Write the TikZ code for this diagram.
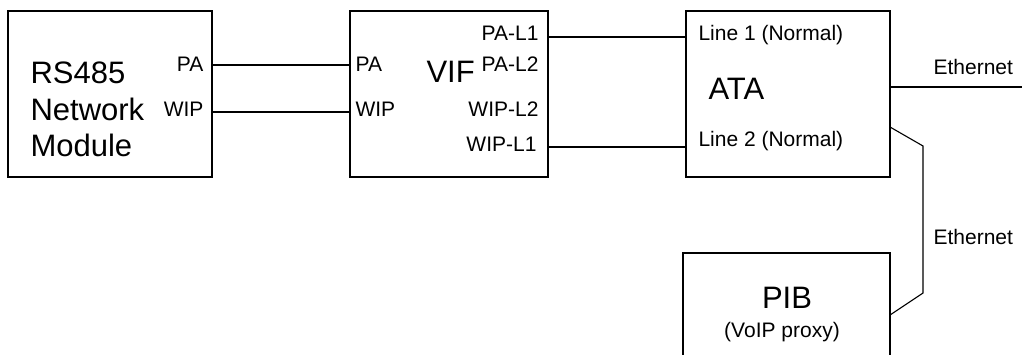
\documentclass[tikz,border=0pt]{standalone}
\usepackage{fontspec}
\setmainfont{Liberation Sans}
\newcommand{\bigtxt}{\fontsize{31}{36}\selectfont}
\newcommand{\smalltxt}{\fontsize{21}{25}\selectfont}

\begin{document}
\begin{tikzpicture}[x=1pt, y=-1pt, line width=1.1pt,
  unitbox/.style={draw, inner sep=0pt, outer sep=0pt},
  lbl/.style={inner sep=0pt, font=\smalltxt},
  title/.style={inner sep=0pt, font=\bigtxt}]

\clip (0,0) rectangle (1022,355);

% Boxes
\node[unitbox, minimum width=204pt, minimum height=166pt] (rs) at (110,94) {};
\node[unitbox, minimum width=198pt, minimum height=166pt] (vif) at (449,94) {};
\node[unitbox, minimum width=204pt, minimum height=166pt] (ata) at (788,94) {};
\node[unitbox, minimum width=207pt, minimum height=147pt] (pib) at (786.5,326.5) {};

% RS485 module text
\node[title, anchor=base west] (rsA) at (30,84) {RS485};
\node[title, anchor=base west] (rsB) at (30,121) {Network};
\node[title, anchor=base west] (rsC) at (30,157) {Module};
\node[lbl, anchor=base east] (rsPA) at (204,72) {PA};
\node[lbl, anchor=base east] (rsWIP) at (204,117) {WIP};

% VIF text
\node[title, anchor=base west] (vifT) at (426,83) {VIF};
\node[lbl, anchor=base west] (vifPA) at (355,72) {PA};
\node[lbl, anchor=base west] (vifWIP) at (355,117) {WIP};
\node[lbl, anchor=base east] (vifPAa) at (539,41) {PA-L1};
\node[lbl, anchor=base east] (vifPAb) at (539,72) {PA-L2};
\node[lbl, anchor=base east] (vifWIPb) at (539,117) {WIP-L2};
\node[lbl, anchor=base east] (vifWIPa) at (537,152) {WIP-L1};

% ATA text
\node[lbl, anchor=base west] (lineA) at (698,41) {Line 1 (Normal)};
\node[title, anchor=base west] (ataT) at (708,100) {ATA};
\node[lbl, anchor=base west] (lineB) at (698,147) {Line 2 (Normal)};

% PIB text
\node[title, anchor=base] (pibT) at (787,308) {PIB};
\node[lbl, anchor=base] (pibS) at (782,337) {(VoIP proxy)};

% Connections
\draw (rs.east |- 0,65) -- (vif.west |- 0,65);
\draw (rs.east |- 0,112) -- (vif.west |- 0,112);
\draw (vif.east |- 0,37) -- (ata.west |- 0,37);
\draw (vif.east |- 0,147) -- (ata.west |- 0,147);

% Ethernet links
\coordinate (ethEnd) at (1022,87);
\coordinate (bendA) at (923,146);
\coordinate (bendB) at (923,293);
\draw (ata.east |- ethEnd) -- (ethEnd);
\draw (ata.east |- 0,127) -- (bendA) -- (bendB) -- (pib.east |- 0,315);
\node[lbl, anchor=base west] (ethA) at (933,75) {Ethernet};
\node[lbl, anchor=base west] (ethB) at (933,245) {Ethernet};

\end{tikzpicture}
\end{document}
